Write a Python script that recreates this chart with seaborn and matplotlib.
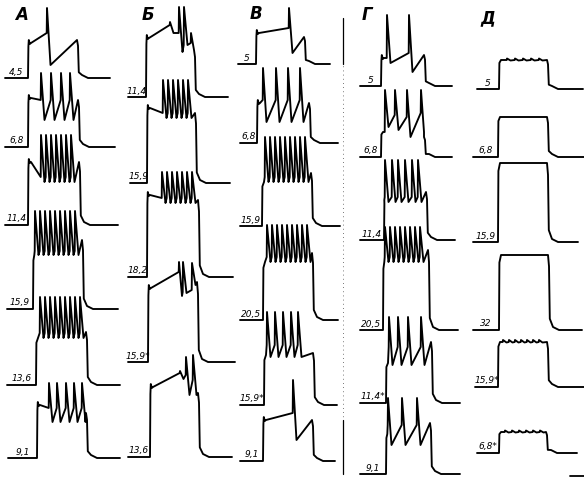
import numpy as np
import pandas as pd
import matplotlib
matplotlib.use("Agg")
import matplotlib.pyplot as plt
import seaborn as sns

# ---- recorded responses (time in ms from current onset, potential in mV above rest) ----
panel = ['А'] * 6 + ['Б'] * 5 + ['В'] * 6 + ['Г'] * 6 + ['Д'] * 6
stim = ['4,5', '6,8', '11,4', '15,9', '13,6', '9,1',
        '11,4', '15,9', '18,2', '15,9*', '13,6',
        '5', '6,8', '15,9', '20,5', '15,9*', '9,1',
        '5', '6,8', '11,4', '20,5', '11,4*', '9,1',
        '5', '6,8', '15,9', '32', '15,9*', '6,8*']

dur = [50, 51, 52, 50, 51, 50,
       49, 49, 52, 50, 49,
       49, 53, 50, 50, 50, 50,
       44, 44, 43, 46, 46, 45,
       49, 50, 50, 50, 50, 48]

plat0 = [35, 49, 63, 54, 47, 53,
         59, 75, 82, 74, 70,
         31, 40, 44, 58, 50, 41,
         28, 25, 40, 68, 40, 40,
         29, 40, 79, 75, 45, 21]

fin = [38, 47, 63, 69, 53, 45,
       47, 70, 77, 80, 64,
       27, 40, 53, 67, 52, 41,
       31, 20, 48, 80, 61, 51,
       29, 40, 79, 75, 45, 21]

spike_t = [[19], [13, 23, 33, 42], [13, 18, 23, 28, 33, 38, 43],
           [2, 7, 12, 17, 22, 27, 32, 37, 42], [4, 9, 14, 19, 24, 29, 34, 39, 44],
           [12, 20, 29, 37, 45],
           [24, 33, 38, 45], [16, 21, 26, 31, 36, 41], [15, 20, 25, 30, 35, 40, 45],
           [31, 35, 44], [30, 36, 43],
           [33], [6, 19, 31, 43], [3, 8, 13, 18, 23, 28, 33, 38, 43],
           [4, 9, 14, 19, 24, 29, 34, 39, 44], [3, 11, 19, 27, 34], [30],
           [6, 28], [4, 14, 26, 40], [1, 8, 14, 21, 28, 34],
           [2, 7, 12, 17, 22, 27, 32, 37], [3, 12, 22, 35], [2, 16, 31],
           [8, 16, 24, 32, 40], [], [], [], [5, 11, 17, 23, 29, 35, 41], [6, 13, 20, 27, 34, 41]]

spike_pre = [[45], 47, 48, 58, 52, 50,
             [72, 64, 52, 54], 70, 79, [90, 70, 72], [84, 82, 77],
             [36], 43, 49, 63, 60, [48],
             [28, 33], [25, 42, 40, 44], 43, 73, 56, 49,
             29, 0, 0, 0, 45, 21]

spike_peak = [70, 74, 90, 98, 88, 75,
              [75, 90, 90, 64], 103, 105, [100, 100, 99], [86, 100, 102],
              56, 75, 89, 95, 93, 81,
              71, 67, 80, 103, 86, 76,
              30.5, 0, 0, 0, 47, 22.5]

spike_trough = [13, 27, 43, 54, 47, 36,
                [64, 45, 52, 47], 65, 74, [66, 69, 77], [78, 62, 62],
                11, 21, 44, 58, 48, 21,
                [23, 14], [30, 27, 20, 25], 38, 68, 38, 29,
                28.5, 0, 0, 0, 44.5, 20.5]

# ---- where each sweep sits on the page ----
x_on = [28, 28, 28, 33, 36, 37,
        146, 147, 147, 148, 150,
        256, 257, 262, 263, 264, 263,
        381, 381, 384, 383, 386, 386,
        499, 498, 498, 499, 498, 499]
y_base = [78, 147, 225, 309, 385, 458,
          97, 183, 277, 362, 457,
          64, 143, 226, 320, 405, 461,
          86, 157, 240, 330, 403, 474,
          89, 157, 242, 330, 387, 453]
lead = [23, 23, 23, 26, 29, 29,
        18, 17, 19, 20, 22,
        18, 17, 22, 23, 24, 23,
        21, 21, 24, 23, 26, 26,
        22, 25, 25, 26, 23, 22]
tail = [32, 36, 38, 35, 33, 33,
        33, 34, 34, 37, 33,
        25, 28, 28, 25, 23, 22,
        27, 27, 28, 29, 28, 29,
        35, 36, 30, 33, 36, 30]

panel_x = {'А': 22, 'Б': 148, 'В': 256, 'Г': 367, 'Д': 488}
panel_y = {'А': 15, 'Б': 15, 'В': 14, 'Г': 15, 'Д': 18}


def sweep(i):
    ts = spike_t[i]
    n = len(ts)
    pre = np.broadcast_to(spike_pre[i], (n,)) if n else []
    pk = np.broadcast_to(spike_peak[i], (n,)) if n else []
    tr = np.broadcast_to(spike_trough[i], (n,)) if n else []
    d = dur[i]
    pts = [(-lead[i], 0), (0, 0), (0.4, 0.9 * plat0[i])]
    if n and ts[0] > 5 and i < 23:
        # small hook right after the step
        pts += [(0.8, plat0[i] + 3), (1.8, plat0[i] - 1), (3, plat0[i])]
    else:
        knee = 2 if n == 0 else min(2, ts[0] - 0.7)
        pts.append((knee, plat0[i]))
    for k in range(n):
        nxt = ts[k + 1] if k + 1 < n else d
        down = min(3.5, 0.75 * (nxt - ts[k]))
        pts += [(ts[k] - 0.3, pre[k]), (ts[k], pk[k]), (ts[k] + down, tr[k])]
    pts += [(d - 1, fin[i]), (d, 0.85 * fin[i]), (d + 0.8, 0.15 * fin[i]),
            (d + 4, 3), (d + 10, 0), (d + tail[i], 0)]
    t, v = np.array(pts).T
    return pd.DataFrame({'x': x_on[i] + t, 'y': y_base[i] - v, 'trace': i})


df = pd.concat([sweep(i) for i in range(len(stim))], ignore_index=True)

sns.set_style('white')
fig = plt.figure(figsize=(5.84, 4.79), dpi=100)
ax = fig.add_axes([0, 0, 1, 1])

sns.lineplot(data=df, x='x', y='y', units='trace', estimator=None, sort=False,
             color='black', linewidth=1.35, legend=False, ax=ax)

for i, lab in enumerate(stim):
    x0 = x_on[i] - lead[i]
    ax.text((x0 + x_on[i]) / 2, y_base[i] - 1.5, lab, ha='center', va='bottom',
            fontsize=6.5, style='italic', color='black')

for p in panel_x:
    ax.text(panel_x[p], panel_y[p], p, ha='center', va='center', fontsize=12,
            style='italic', fontweight='bold', color='black')

# marker line between В and Г and the time bar
ax.plot([343, 343], [20, 470], color='black', lw=0.6, ls=(0, (1, 4)), alpha=0.7)
ax.plot([343, 343], [18, 64], color='black', lw=0.9)
ax.plot([343, 343], [420, 474], color='black', lw=0.9)
ax.plot([570, 584], [476, 476], color='black', lw=1.3)

ax.set_xlim(0, 584)
ax.set_ylim(479, 0)
ax.axis('off')
fig.savefig('out.png', dpi=100, facecolor='white')
